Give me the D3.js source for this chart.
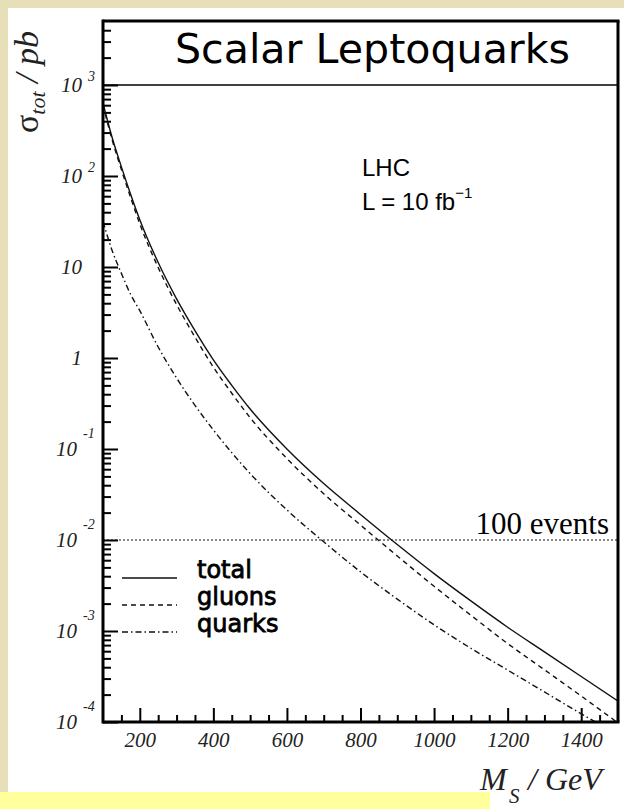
<!DOCTYPE html>
<html>
<head>
<meta charset="utf-8">
<script src="https://cdn.jsdelivr.net/npm/d3@7"></script>
<style>
    html, body { margin: 0; padding: 0; background: #e7dfb7; }
    svg { display: block; }
</style>
</head>
<body>
<div id="chart"></div>
<script>
// masses in GeV, cross sections in pb
var masses = [100, 125, 150, 175, 200, 250, 300, 350, 400, 450, 500, 600, 700, 800, 900, 1000, 1100, 1200, 1300, 1400, 1500];
var sigmaTotal = [631, 263, 126, 63.1, 33.1, 11.2, 4.47, 2.0, 0.955, 0.501, 0.275, 0.100, 0.0417, 0.0191, 0.00891, 0.00427, 0.00214, 0.00110, 0.000589, 0.000316, 0.000170];
var sigmaGluons = [599, 248, 117.5, 58.1, 29.8, 9.88, 3.87, 1.70, 0.793, 0.410, 0.221, 0.0786, 0.0322, 0.0146, 0.00667, 0.00310, 0.00149, 0.000728, 0.000375, 0.000193, 0.0000976];
var sigmaQuarks = [31.6, 15.1, 8.51, 5.01, 3.31, 1.32, 0.603, 0.302, 0.162, 0.0912, 0.0537, 0.0214, 0.00955, 0.00447, 0.00224, 0.00117, 0.000646, 0.000372, 0.000214, 0.000123, 0.0000724];
var xTickLabels = [200, 400, 600, 800, 1000, 1200, 1400];
var yExponents = [-4, -3, -2, -1, 0, 1, 2, 3];
var legendNames = ["total", "gluons", "quarks"];
var eventsLevel = 0.01; // 100 events at 10 fb^-1

function init() {
    var w = 624;
    var h = 809;
    var left = 103, right = 618, top = 85, bottom = 722, boxTop = 21;

    var svg = d3.select("#chart")
        .append("svg")
        .attr("width", w)
        .attr("height", h);

    // page background
    svg.append("rect").attr("x", 0).attr("y", 0).attr("width", w).attr("height", h).attr("fill", "#e7dfb7");
    svg.append("rect").attr("x", 8).attr("y", 8).attr("width", w - 8).attr("height", h - 8).attr("fill", "#ffffff");
    svg.append("rect").attr("x", 0).attr("y", 792).attr("width", 490).attr("height", 17).attr("fill", "#ffff9c");

    // Scales
    var xScale = d3.scaleLinear().domain([100, 1500]).range([left, right]);
    var yScale = d3.scaleLog().domain([1e-4, 1e3]).range([bottom, top]);

    // minor / major y ticks
    var yMajor = yExponents.map(function(e) { return Math.pow(10, e); });
    var yMinor = [];
    yExponents.forEach(function(e) {
        for (var k = 2; k <= 9; k++) {
            var v = k * Math.pow(10, e);
            if (yScale(v) > boxTop + 3) yMinor.push(v);
        }
    });

    var yMinorAxis = d3.axisLeft(yScale).tickValues(yMinor).tickSize(-8).tickFormat("");
    var yMajorAxis = d3.axisLeft(yScale).tickValues(yMajor).tickSize(-15).tickFormat("");
    [yMinorAxis, yMajorAxis].forEach(function(ax) {
        var g = svg.append("g").attr("transform", "translate(" + left + ",0)").call(ax);
        g.select(".domain").remove();
        g.selectAll("line").attr("stroke", "#000").attr("stroke-width", 2);
    });

    // x ticks
    var xMinor = d3.range(150, 1500, 50).filter(function(m) { return m % 200 !== 0; });
    var xMinorAxis = d3.axisBottom(xScale).tickValues(xMinor).tickSize(-7).tickFormat("");
    var gxm = svg.append("g").attr("transform", "translate(0," + bottom + ")").call(xMinorAxis);
    gxm.select(".domain").remove();
    gxm.selectAll("line").attr("stroke", "#000").attr("stroke-width", 2);

    var xAxis = d3.axisBottom(xScale).tickValues(xTickLabels).tickSize(-14).tickPadding(10).tickFormat(d3.format("d"));
    var gx = svg.append("g").attr("transform", "translate(0," + bottom + ")").call(xAxis);
    gx.select(".domain").remove();
    gx.selectAll("line").attr("stroke", "#000").attr("stroke-width", 2);
    gx.selectAll("text")
        .attr("fill", "#222")
        .style("font-family", "'Liberation Serif', serif")
        .style("font-style", "italic")
        .style("font-size", "21px");

    // y tick labels (10 with exponent)
    var labelStyle = "font-family:'Liberation Serif',serif;font-style:italic;fill:#222";
    yExponents.forEach(function(e) {
        var yy = yScale(Math.pow(10, e));
        if (e === 0 || e === 1) {
            svg.append("text").attr("x", 82).attr("y", yy + 7).attr("text-anchor", "end")
                .attr("style", labelStyle + ";font-size:21px").text(e === 0 ? "1" : "10");
        } else if (e > 1) {
            svg.append("text").attr("x", 82).attr("y", yy + 7).attr("text-anchor", "end")
                .attr("style", labelStyle + ";font-size:21px").text("10");
            svg.append("text").attr("x", 88).attr("y", yy - 4)
                .attr("style", labelStyle + ";font-size:14px").text(e);
        } else {
            svg.append("text").attr("x", 77).attr("y", yy + 7).attr("text-anchor", "end")
                .attr("style", labelStyle + ";font-size:21px").text("10");
            svg.append("text").attr("x", 83).attr("y", yy - 11)
                .attr("style", labelStyle + ";font-size:14px").text("-" + Math.abs(e));
        }
    });

    // clip for curves
    svg.append("clipPath").attr("id", "plotclip")
        .append("rect").attr("x", left).attr("y", top).attr("width", right - left).attr("height", bottom - top);

    var series = [
        { values: sigmaTotal, dash: null },
        { values: sigmaGluons, dash: "5,4" },
        { values: sigmaQuarks, dash: "6,3,1.5,3" }
    ];

    var line = d3.line()
        .x(function(d) { return xScale(d.m); })
        .y(function(d) { return yScale(d.s); })
        .curve(d3.curveMonotoneX);

    series.forEach(function(s) {
        var pts = masses.map(function(m, i) { return { m: m, s: s.values[i] }; });
        svg.append("path")
            .datum(pts)
            .attr("clip-path", "url(#plotclip)")
            .attr("d", line)
            .attr("fill", "none")
            .attr("stroke", "#111")
            .attr("stroke-width", 1.4)
            .attr("stroke-dasharray", s.dash);
    });

    // 100 events line
    svg.append("line")
        .attr("x1", left).attr("x2", right)
        .attr("y1", yScale(eventsLevel)).attr("y2", yScale(eventsLevel))
        .attr("stroke", "#111").attr("stroke-width", 1)
        .attr("stroke-dasharray", "2,2");
    svg.append("text")
        .attr("x", 609).attr("y", yScale(eventsLevel) - 6)
        .attr("text-anchor", "end")
        .attr("style", "font-family:'Liberation Serif',serif;font-size:31px;fill:#000")
        .text("100 events");

    // frame
    svg.append("line").attr("x1", left).attr("x2", left).attr("y1", boxTop - 1.5).attr("y2", bottom + 1.5)
        .attr("stroke", "#000").attr("stroke-width", 3);
    svg.append("line").attr("x1", left).attr("x2", right + 1.5).attr("y1", bottom).attr("y2", bottom)
        .attr("stroke", "#000").attr("stroke-width", 3);
    svg.append("line").attr("x1", right).attr("x2", right).attr("y1", boxTop).attr("y2", bottom)
        .attr("stroke", "#000").attr("stroke-width", 3);
    svg.append("line").attr("x1", left).attr("x2", right + 1.5).attr("y1", boxTop).attr("y2", boxTop)
        .attr("stroke", "#000").attr("stroke-width", 3);
    svg.append("line").attr("x1", left).attr("x2", right).attr("y1", top).attr("y2", top)
        .attr("stroke", "#000").attr("stroke-width", 1.5);

    // title
    svg.append("text")
        .attr("x", 175).attr("y", 63)
        .attr("textLength", 395).attr("lengthAdjust", "spacingAndGlyphs")
        .attr("style", "font-family:'DejaVu Sans',sans-serif;font-size:40px;fill:#000")
        .text("Scalar Leptoquarks");

    // LHC annotation
    var sans = "font-family:'Liberation Sans',Arial,sans-serif;fill:#000";
    svg.append("text").attr("x", 362).attr("y", 176).attr("style", sans + ";font-size:24px").text("LHC");
    var lt = svg.append("text").attr("x", 362).attr("y", 210).attr("style", sans + ";font-size:24px");
    lt.append("tspan").text("L = 10 fb");
    lt.append("tspan").attr("dy", -12).attr("style", "font-size:15px").text("\u22121");

    // legend
    legendNames.forEach(function(name, i) {
        var ly = [578, 605, 632][i];
        svg.append("line")
            .attr("x1", 122).attr("x2", 177).attr("y1", ly).attr("y2", ly)
            .attr("stroke", "#111").attr("stroke-width", 1.4)
            .attr("stroke-dasharray", series[i].dash);
        svg.append("text")
            .attr("x", 197).attr("y", ly)
            .attr("style", "font-family:'DejaVu Sans',sans-serif;font-size:24px;fill:#000;stroke:#000;stroke-width:0.8")
            .text(name);
    });

    // axis titles
    var yt = svg.append("text")
        .attr("transform", "translate(38,133) rotate(-90)")
        .attr("style", "font-family:'Liberation Serif',serif;font-size:34px;fill:#222");
    yt.append("tspan").text("\u03c3");
    yt.append("tspan").attr("dy", 7).attr("style", "font-style:italic;font-size:22px").text("tot");
    yt.append("tspan").attr("dy", -7).attr("style", "font-style:italic").text(" / pb");

    var serifIt = "font-family:'Liberation Serif',serif;font-style:italic;fill:#222";
    svg.append("text").attr("x", 480).attr("y", 790).attr("style", serifIt + ";font-size:32px").text("M");
    svg.append("text").attr("x", 509).attr("y", 803).attr("style", serifIt + ";font-size:21px").text("S");
    svg.append("text").attr("x", 528).attr("y", 790)
        .attr("style", serifIt + ";font-size:32px").text("/ GeV");
}

window.onload = init;
</script>
</body>
</html>
